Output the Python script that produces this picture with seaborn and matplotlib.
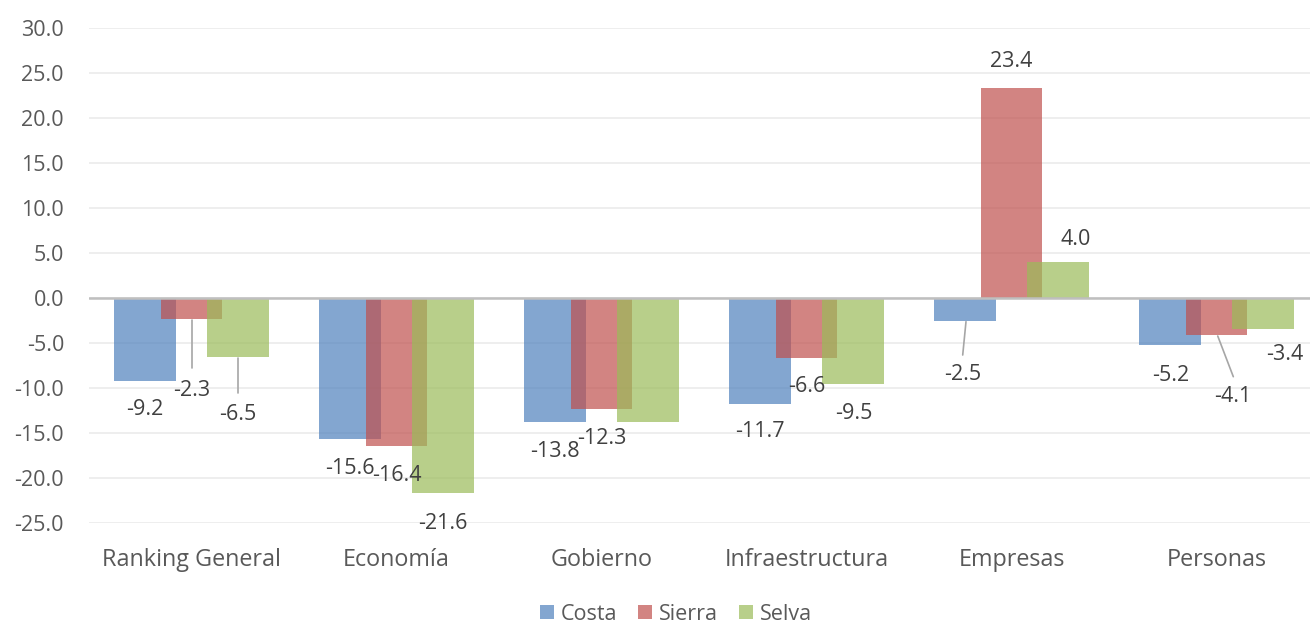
import matplotlib
matplotlib.use("Agg")
import matplotlib.pyplot as plt
from matplotlib.patches import Patch
import seaborn as sns
import pandas as pd
import numpy as np

# ---- data ----
categories = ["Ranking General", "Economía", "Gobierno", "Infraestructura", "Empresas", "Personas"]
series_names = ["Costa", "Sierra", "Selva"]
costa = [-9.2, -15.6, -13.8, -11.7, -2.5, -5.2]
sierra = [-2.3, -16.4, -12.3, -6.6, 23.4, -4.1]
selva = [-6.5, -21.6, -13.7, -9.5, 4.0, -3.4]
show_label = {"Costa": [True] * 6,
              "Sierra": [True] * 6,
              "Selva": [True, True, False, True, True, True]}
y_ticks = [30, 25, 20, 15, 10, 5, 0, -5, -10, -15, -20, -25]

# ---- layout / style ----
colors = {"Costa": "#4F81BD", "Sierra": "#C0504D", "Selva": "#9BBB59"}
offsets = {"Costa": -0.227, "Sierra": 0.0, "Selva": 0.227}
bar_width = 0.30
# label positions (dx from category centre, y in data units)
label_pos = {
    "Costa":  [(-0.227, -12.4), (-0.228, -18.86), (-0.227, -17.04), (-0.227, -14.82), (-0.239, -8.52), (-0.222, -8.6)],
    "Sierra": [(0.0, -10.19), (0.0, -19.74), (0.0, -15.56), (0.0, -9.82), (0.0, 26.29), (0.08, -10.93)],
    "Selva":  [(0.227, -12.86), (0.227, -24.97), (0.227, 0.0), (0.23, -12.78), (0.315, 6.48), (0.334, -6.3)],
}
# leader lines: (series, category index, (dx0, y0), (dx1, y1))
leaders = [
    ("Sierra", 0, (0.0, -2.41), (0.0, -7.74)),
    ("Selva", 0, (0.229, -6.6), (0.229, -10.49)),
    ("Costa", 4, (-0.222, -2.6), (-0.238, -6.3)),
    ("Sierra", 5, (0.006, -4.19), (0.082, -8.71)),
]

sns.set_theme(style="white")
FONT = ["Open Sans", "DejaVu Sans"]
plt.rcParams["font.family"] = FONT
FS = 15.5
FS_CAT = 16.8

fig = plt.figure(figsize=(13.10, 6.24), dpi=100)
ax = fig.add_axes([89 / 1310, 1 - 523.3 / 624, 1230 / 1310, (523.3 - 28.3) / 624])

values = {"Costa": costa, "Sierra": sierra, "Selva": selva}
for name in series_names:
    df = pd.DataFrame({"pos": np.arange(len(categories)) + offsets[name],
                       "val": values[name]})
    sns.barplot(data=df, x="pos", y="val", native_scale=True, width=bar_width,
                color=colors[name], saturation=1, alpha=0.7, linewidth=0,
                errorbar=None, ax=ax, zorder=3)

ax.set_xlim(-0.5, len(categories) - 0.5)
ax.set_ylim(-25, 30)
ax.set_yticks(y_ticks)
ax.set_yticklabels([f"{t:.1f}" for t in y_ticks])
ax.set_xticks(np.arange(len(categories)))
ax.set_xticklabels(categories)
ax.set_xlabel("")
ax.set_ylabel("")
ax.tick_params(axis="y", length=0, pad=18, labelsize=FS, labelcolor="#595959")
ax.tick_params(axis="x", length=0, pad=18, labelsize=FS_CAT, labelcolor="#595959")
for s in ax.spines.values():
    s.set_visible(False)
ax.grid(axis="y", color="#EBEBEB", linewidth=1.2, zorder=0)
ax.grid(axis="x", visible=False)
ax.set_axisbelow(True)
ax.axhline(0, color="#BFBFBF", linewidth=1.8, zorder=4)

# data labels
for name in series_names:
    for i, v in enumerate(values[name]):
        if not show_label[name][i]:
            continue
        dx, yy = label_pos[name][i]
        ax.text(i + dx, yy, f"{v:.1f}", ha="center", va="center",
                fontsize=FS, color="#404040", zorder=6)

for name, i, (dx0, y0), (dx1, y1) in leaders:
    ax.plot([i + dx0, i + dx1], [y0, y1], color="#A6A6A6", linewidth=1.2, zorder=5)

handles = [Patch(facecolor=colors[n], alpha=0.7, edgecolor="none") for n in series_names]
fig.legend(handles, series_names, loc="center", bbox_to_anchor=(676 / 1310, 1 - 614 / 624),
           ncol=3, frameon=False, fontsize=FS, handlelength=0.65, handleheight=0.65,
           handletextpad=0.3, columnspacing=1.0, labelcolor="#595959")

fig.savefig("out.png", dpi=100)
